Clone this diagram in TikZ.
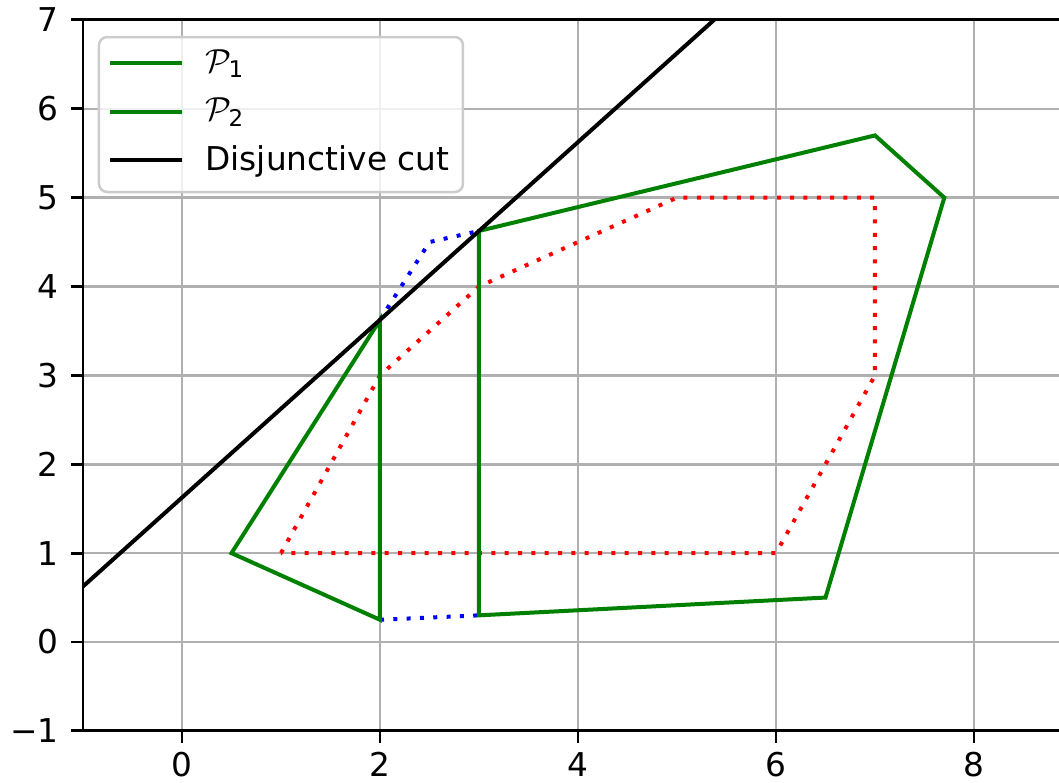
\documentclass[tikz,border=0pt]{standalone}
\usepackage{amsmath}
\usepackage{fontspec}
\setmainfont{DejaVu Sans}
\begin{document}
\begin{tikzpicture}[x=35.64pt,y=31.995pt,
  gridline/.style={draw=gridgray,line width=0.9pt},
  spine/.style={draw=black,line width=1pt},
  tickmark/.style={draw=black,line width=1pt},
  polyline/.style={draw=mplgreen,line width=1.44pt,line join=miter},
  dotline/.style={line width=1.44pt,dash pattern=on 1.44pt off 3.36pt,line cap=butt},
  cutline/.style={draw=black,line width=1.44pt},
  ticklabel/.style={font=\fontsize{11.8}{14}\selectfont,inner sep=0pt},
  legendtext/.style={font=\fontsize{11.8}{14}\selectfont,inner sep=0pt,anchor=base west},
  legendbox/.style={draw=legendgray,line width=0.9pt,fill=white,fill opacity=0.8,rounded corners=3pt}]
\definecolor{gridgray}{HTML}{B0B0B0}
\definecolor{legendgray}{HTML}{CCCCCC}
\definecolor{mplgreen}{HTML}{008000}
\useasboundingbox (-1.83838,-1.58650) rectangle (8.85859,7.22363);
% named coordinates
\coordinate (a1) at (0.5,1);
\coordinate (a2) at (2,0.25);
\coordinate (a3) at (2,3.625);
\coordinate (b1) at (3,0.3);
\coordinate (b2) at (6.5,0.5);
\coordinate (b3) at (7.7,5);
\coordinate (b4) at (7,5.7);
\coordinate (b5) at (3,4.625);
\coordinate (m1) at (2.5,4.5);
\coordinate (c1) at (-1,0.625);
\coordinate (c2) at (5.375,7);
\begin{scope}
\clip (-1,-1) rectangle (8.85859,7);
\foreach \gx in {0,2,4,6,8} \draw[gridline] (\gx,-1) -- (\gx,7);
\foreach \gy in {0,...,6} \draw[gridline] (-1,\gy) -- (8.86,\gy);
% red dotted polygon
\draw[dotline,red] (1,1) -- (2,3) -- (3,4) -- (5,5) -- (7,5) -- (7,3) -- (6,1) -- cycle;
% blue dotted
\draw[dotline,blue] (a3) -- (m1) -- (b5);
\draw[dotline,blue] (a2) -- (b1);
% green polygons
\draw[polyline] (a1) -- (a2) -- (a3) -- cycle;
\draw[polyline] (b1) -- (b2) -- (b3) -- (b4) -- (b5) -- cycle;
% cut
\draw[cutline] (c1) -- (c2);
\end{scope}
% spines
\draw[spine] (-1,7) -- (-1,-1) -- (8.86,-1);
\draw[spine] (-1,7) -- (8.86,7);
% ticks
\foreach \gy/\lab in {-1/{−1},0/0,1/1,2/2,3/3,4/4,5/5,6/6,7/7} {
  \draw[tickmark] (-1,\gy) -- ++(-4.3pt,0);
  \node[ticklabel,anchor=east] (yl\gy) at ([xshift=-8.6pt]-1,\gy) {\lab};
}
\foreach \gx in {0,2,4,6,8} {
  \draw[tickmark] (\gx,-1) -- ++(0,-4.3pt);
  \node[ticklabel,anchor=north] (xl\gx) at ([yshift=-7.6pt]\gx,-1) {\gx};
}
% legend
\draw[legendbox] (-0.8384,5.0633) rectangle (2.8384,6.8073);
\coordinate (l1a) at (-0.7273,6.5148); \coordinate (l1b) at (0,6.5148);
\coordinate (l2a) at (-0.7273,5.9634); \coordinate (l2b) at (0,5.9634);
\coordinate (l3a) at (-0.7273,5.4233); \coordinate (l3b) at (0,5.4233);
\draw[polyline] (l1a) -- (l1b);
\draw[polyline] (l2a) -- (l2b);
\draw[cutline] (l3a) -- (l3b);
\node[legendtext] (t1) at (0.2323,6.4135) {$\mathcal{P}_{\text{1}}$};
\node[legendtext] (t2) at (0.2323,5.8622) {$\mathcal{P}_{\text{2}}$};
\node[legendtext] (t3) at (0.2323,5.2996) {Disjunctive cut};
\end{tikzpicture}
\end{document}
